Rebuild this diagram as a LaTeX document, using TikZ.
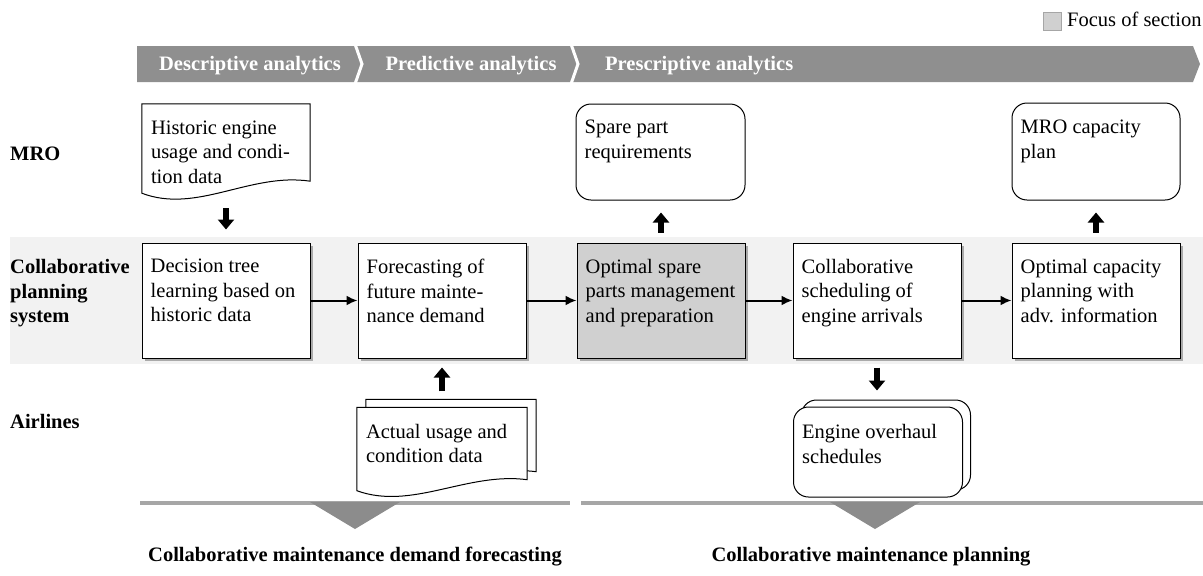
\documentclass[tikz,border=0pt]{standalone}
\usepackage{fontspec}
\setmainfont{Liberation Serif}
\usetikzlibrary{arrows.meta,calc}
\definecolor{bandgray}{RGB}{143,143,143}
\definecolor{rowgray}{RGB}{242,242,242}
\definecolor{focusgray}{RGB}{208,208,208}
\definecolor{rulegray}{RGB}{166,166,166}
\definecolor{trigray}{RGB}{140,140,140}
\definecolor{shadowgray}{RGB}{170,170,170}

\begin{document}
\begin{tikzpicture}[x=1pt,y=-1pt,
  txt/.style={font=\fontsize{20.5}{24.5}\selectfont, inner sep=0pt, align=left},
  btxt/.style={font=\fontsize{20.5}{24.5}\selectfont\bfseries, inner sep=0pt, align=left},
  htxt/.style={btxt, text=white},
  procbox/.style={draw=black, line width=1pt, fill=white, minimum width=168pt,
    minimum height=115pt, inner sep=0pt},
  boxshadow/.style={fill=shadowgray, draw=none, minimum width=168pt,
    minimum height=115pt, inner sep=0pt},
  docframe/.style={minimum width=168pt, minimum height=96pt, inner sep=0pt},
  docline/.style={draw=black, line width=1pt, fill=white},
  roundbox/.style={draw=black, line width=1pt, fill=white, rounded corners=15pt,
    minimum width=169pt, minimum height=96pt, inner sep=0pt},
  flow/.style={line width=2pt, -{Latex[length=11pt,width=10pt]}},
  fatarrow/.style={line width=6.5pt, -{Triangle[length=10pt,width=16pt]}},
]
\useasboundingbox (0,0) rectangle (1203,576);

% legend
\node[draw=rulegray, fill=focusgray, minimum size=18pt, inner sep=0pt] (legbox) at (1052,21) {};
\node[txt, anchor=base west] (legtxt) at (1067,26.5) {Focus of section};

% analytics header band
\fill[bandgray] (137,46) -- (1193,46) -- (1200,64) -- (1193,82) -- (137,82) -- cycle;
\draw[white, line width=3pt] (355,44) -- (362,64) -- (355,84);
\draw[white, line width=3pt] (571,44) -- (578,64) -- (571,84);
\node[htxt, anchor=base] (hdesc) at (250,70) {Descriptive analytics};
\node[htxt, anchor=base] (hpred) at (471,70) {Predictive analytics};
\node[htxt, anchor=base west] (hpres) at (605,70) {Prescriptive analytics};

% planning system lane
\fill[rowgray] (10,237) rectangle (1203,364);

% lane titles
\node[btxt, anchor=west] (lmro) at (10,154) {MRO};
\node[btxt, anchor=north west] (lcps) at (10,259.5) {Collaborative\\planning\\system};
\node[btxt, anchor=west] (lair) at (10,421) {Airlines};

% process steps, each with a soft shadow below right
\foreach \n/\x in {s1/226, s2/442, s3/661, s4/877, s5/1096}
  \node[boxshadow] (\n) at (\x+3,303.5) {};
\node[procbox] (b1) at (226,300.5) {};
\node[procbox] (b2) at (442,300.5) {};
\node[procbox, fill=focusgray] (b3) at (661,300.5) {};
\node[procbox] (b4) at (877,300.5) {};
\node[procbox] (b5) at (1096,300.5) {};
\node[txt, anchor=north west] (t1) at ($(b1.north west)+(9,16.5)$) {Decision tree\\learning based on\\historic data};
\node[txt, anchor=north west] (t2) at ($(b2.north west)+(9,16.5)$) {Forecasting of\\future mainte-\\nance demand};
\node[txt, anchor=north west] (t3) at ($(b3.north west)+(9,16.5)$) {Optimal spare\\parts management\\and preparation};
\node[txt, anchor=north west] (t4) at ($(b4.north west)+(9,16.5)$) {Collaborative\\scheduling of\\engine arrivals};
\node[txt, anchor=north west] (t5) at ($(b5.north west)+(9,16.5)$) {Optimal capacity\\planning with\\adv. information};

\draw[flow] (b1.east) -- (b2.west);
\draw[flow] (b2.east) -- (b3.west);
\draw[flow] (b3.east) -- (b4.west);
\draw[flow] (b4.east) -- (b5.west);

% historic data document
\node[docframe] (hist) at (226,152) {};
\draw[docline] (hist.north west) -- (hist.north east) -- ($(hist.south east)+(0,-19)$)
  .. controls ($(hist.south east)+(-60,-28)$) and ($(hist.south west)+(55,14)$) .. ($(hist.south west)+(0,-7)$) -- cycle;
\node[txt, anchor=north west] (thist) at ($(hist.north west)+(9,16.5)$) {Historic engine\\usage and condi-\\tion data};

% MRO outputs
\node[roundbox] (spare) at (660.5,152) {};
\node[txt, anchor=north west] (tspare) at ($(spare.north west)+(9,16.5)$) {Spare part\\requirements};
\node[roundbox, minimum width=168pt, minimum height=97pt] (cap) at (1096,151.5) {};
\node[txt, anchor=north west] (tcap) at ($(cap.north west)+(9,17.5)$) {MRO capacity\\plan};

% airline usage data (stacked documents)
\node[docframe, minimum width=170pt, minimum height=90pt] (actback) at (451,444.5) {};
\draw[docline] (actback.north west) -- (actback.north east) -- ($(actback.south east)+(0,-18)$)
  .. controls ($(actback.south east)+(-60,-26)$) and ($(actback.south west)+(55,13)$) .. ($(actback.south west)+(0,-7)$) -- cycle;
\node[docframe, minimum width=170pt, minimum height=90pt] (act) at (442,452.5) {};
\draw[docline] (act.north west) -- (act.north east) -- ($(act.south east)+(0,-18)$)
  .. controls ($(act.south east)+(-60,-26)$) and ($(act.south west)+(55,13)$) .. ($(act.south west)+(0,-7)$) -- cycle;
\node[txt, anchor=north west] (tact) at ($(act.north west)+(9,16.5)$) {Actual usage and\\condition data};

% engine overhaul schedules (stacked)
\node[roundbox, minimum height=90pt] (engback) at (886,445) {};
\node[roundbox, minimum height=90pt] (eng) at (878,452) {};
\node[txt, anchor=north west] (teng) at ($(eng.north west)+(9,18)$) {Engine overhaul\\schedules};

% information transfers
\draw[fatarrow, shorten <=8pt, shorten >=13pt] (hist.south) -- (b1.north);
\draw[fatarrow, shorten <=10pt, shorten >=12pt] (b3.north) -- (b3.north |- spare.south);
\draw[fatarrow, shorten <=10pt, shorten >=12pt] (b5.north) -- (b5.north |- cap.south);
\draw[fatarrow, shorten <=16pt, shorten >=9pt] (b2.south |- act.north) -- (b2.south);
\draw[fatarrow, shorten <=9pt, shorten >=16pt] (b4.south) -- (b4.south |- eng.north);

% phase markers
\draw[rulegray, line width=3.5pt] (140,503) -- (570,503);
\draw[rulegray, line width=3.5pt] (581,503) -- (1203,503);
\fill[trigray] (310,502) -- (400,502) -- (355,529) -- cycle;
\fill[trigray] (830,502) -- (920,502) -- (875,529) -- cycle;
\node[btxt, anchor=base] (pfore) at (355,561) {Collaborative maintenance demand forecasting};
\node[btxt, anchor=base] (pplan) at (871,561) {Collaborative maintenance planning};
\end{tikzpicture}
\end{document}
